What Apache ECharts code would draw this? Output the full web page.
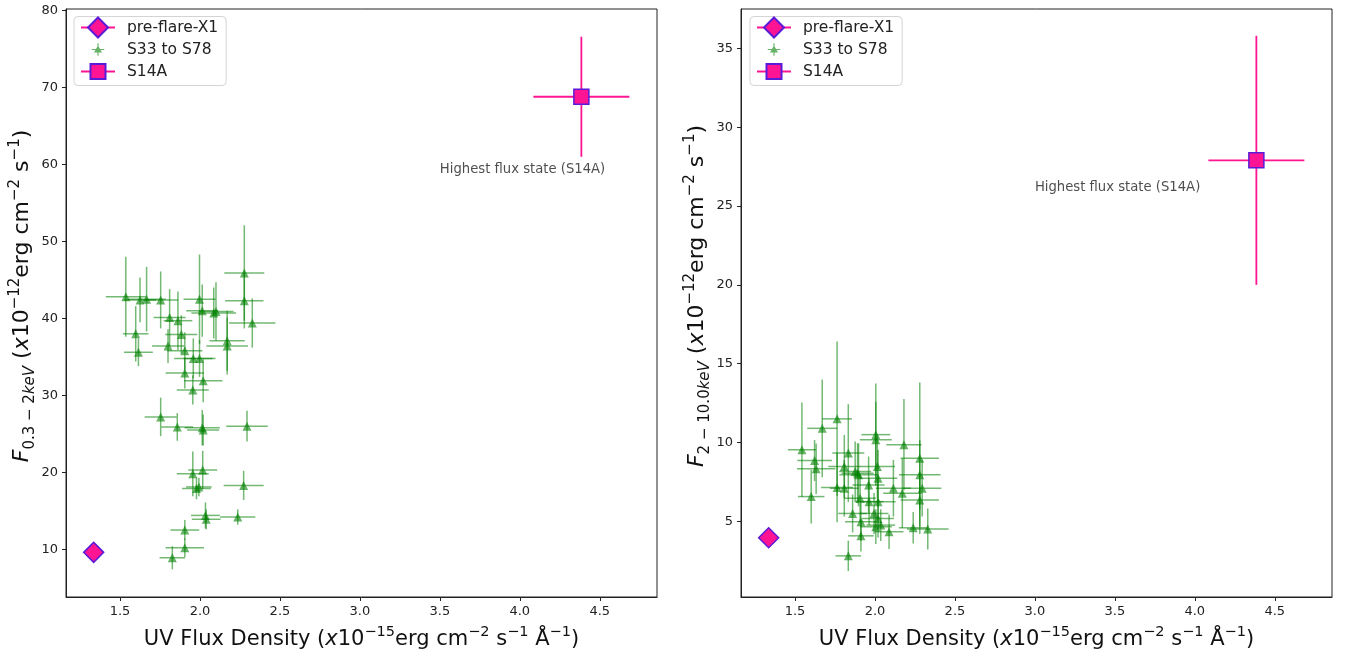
<!DOCTYPE html>
<html>
<head>
<meta charset="utf-8">
<script src="https://cdn.jsdelivr.net/npm/echarts@6/dist/echarts.min.js"></script>
<style>
html,body{margin:0;padding:0;background:#fff}
#chart{width:1345px;height:656px}
</style>
</head>
<body>
<div id="chart"></div>
<script>
// S33 to S78, left panel (0.3-2 keV)
var leftX    = [1.536,1.625,1.666,1.754,1.598,1.615,1.81,1.862,1.883,1.80,1.905,1.958,1.997,1.905,2.02,1.955,1.997,2.014,2.086,2.10,2.17,2.17,2.277,2.277,2.327,1.754,1.858,2.014,2.02,2.294,1.955,2.017,1.978,1.993,2.273,2.034,2.039,2.236,1.905,1.905,1.827];
var leftY    = [42.8,42.4,42.5,42.4,38.0,35.6,40.1,39.7,37.9,36.4,35.8,34.8,34.8,32.9,31.9,30.7,42.5,41.0,40.7,40.9,37.1,36.4,45.9,42.3,39.4,27.2,25.9,25.8,25.5,26.0,19.8,20.3,17.9,18.1,18.3,14.4,13.9,14.2,12.5,10.2,8.9];
var leftXErr = [0.125,0.10,0.12,0.11,0.08,0.09,0.10,0.09,0.10,0.10,0.11,0.12,0.10,0.12,0.12,0.10,0.10,0.10,0.14,0.11,0.11,0.13,0.125,0.12,0.145,0.10,0.10,0.11,0.10,0.13,0.10,0.09,0.09,0.08,0.125,0.09,0.09,0.11,0.09,0.12,0.08];
var leftYErr = [5.2,2.9,4.2,3.7,3.6,1.8,3.7,3.8,2.5,2.2,2.4,2.6,2.4,2.0,2.8,1.9,5.8,3.4,3.3,3.8,3.9,3.7,6.2,3.6,3.2,2.5,1.8,2.3,2.0,2.0,2.9,2.5,1.4,1.2,1.9,1.7,1.3,1.0,1.3,1.2,1.5];

// S33 to S78, right panel (2-10 keV)
var rightX    = [1.543,1.67,1.763,1.622,1.632,1.601,1.833,1.808,1.763,1.808,1.876,1.897,1.86,1.907,1.912,1.912,1.833,2.005,2.005,2.015,2.019,1.96,1.963,2.019,1.994,2.019,2.036,2.005,2.088,2.115,2.181,2.171,2.28,2.28,2.295,2.28,2.239,2.33,1.891];
var rightY    = [9.54,10.9,11.5,8.86,8.33,6.57,9.33,8.48,7.14,7.10,8.16,7.95,5.50,6.46,4.97,4.08,2.81,10.5,10.18,8.48,7.73,7.31,6.25,6.25,5.50,5.18,4.76,4.66,4.34,7.10,9.86,6.78,9.0,7.95,7.1,6.36,4.59,4.51,8.05];
var rightXErr = [0.088,0.094,0.093,0.108,0.12,0.083,0.10,0.10,0.10,0.09,0.10,0.12,0.09,0.10,0.10,0.08,0.08,0.09,0.10,0.11,0.12,0.10,0.09,0.11,0.09,0.10,0.09,0.10,0.09,0.11,0.11,0.12,0.12,0.13,0.12,0.12,0.09,0.13,0.10];
var rightYErr = [3.0,3.1,4.9,1.3,1.6,1.7,3.1,2.0,2.2,1.8,1.9,2.0,1.2,1.5,1.2,1.0,0.96,3.25,2.4,2.0,1.8,1.8,1.5,1.6,1.3,1.2,1.0,1.1,1.1,1.8,2.9,2.2,4.8,2.2,1.8,1.7,1.0,1.3,1.9];

// pre-flare-X1 and S14A: [left, right]
var preflareX = 1.335;
var preflareY = [9.6, 3.96];
var s14aX = 4.385;
var s14aXErr = 0.3;
var s14aY = [68.8, 27.9];
var s14aYErr = [7.8, 7.9];

// annotation anchor points: [left, right]
var noteX = [3.5, 3.0];
var noteY = [59.4, 26.2];
var noteText = 'Highest flux state (S14A)';

var font = 'DejaVu Sans';
var magenta = '#ff1493';
var violet = '#5a1ad8';
// marker shapes padded inside a box so legend and plot sizes match
var squareSym = 'path://M0,0 M20,20 M2.5,2.5 L17.5,2.5 L17.5,17.5 L2.5,17.5 Z';
var greenIcon = 'path://M0,0 M26,26 M6.5,12.4 L19.5,12.4 L19.5,13.6 L6.5,13.6 Z M12.4,6.5 L13.6,6.5 L13.6,19.5 L12.4,19.5 Z M13,8.8 L17.2,16.2 L8.8,16.2 Z';

function rows(xs, ys, xe, ye) {
    return xs.map(function (x, i) { return [x, ys[i], xe[i], ye[i]]; });
}

function errBars(color, width) {
    return function (params, api) {
        var x = api.value(0), y = api.value(1), xe = api.value(2), ye = api.value(3);
        var a = api.coord([x - xe, y]), b = api.coord([x + xe, y]);
        var c = api.coord([x, y - ye]), d = api.coord([x, y + ye]);
        var st = {stroke: color, lineWidth: width};
        return {type: 'group', children: [
            {type: 'line', shape: {x1: a[0], y1: a[1], x2: b[0], y2: b[1]}, style: st},
            {type: 'line', shape: {x1: c[0], y1: c[1], x2: d[0], y2: d[1]}, style: st}
        ]};
    };
}

function richSet(big, small, lh) {
    return {
        n: {fontSize: big, fontFamily: font, color: '#111', lineHeight: lh},
        i: {fontSize: big, fontFamily: font, color: '#111', lineHeight: lh, fontStyle: 'italic'},
        sup: {fontSize: small, fontFamily: font, color: '#111', lineHeight: small, verticalAlign: 'top'},
        sub: {fontSize: small, fontFamily: font, color: '#111', lineHeight: small, verticalAlign: 'bottom'},
        subi: {fontSize: small, fontFamily: font, color: '#111', lineHeight: small, verticalAlign: 'bottom', fontStyle: 'italic'}
    };
}

var xName = '{n|UV Flux Density (}{i|x}{n|10}{sup|−15}{n|erg cm}{sup|−2}{n| s}{sup|−1}{n| Å}{sup|−1}{n|)}';
var yNameL = '{i|F}{sub|0.3 − 2}{subi|keV}{n| (}{i|x}{n|10}{sup|−12}{n|erg cm}{sup|−2}{n| s}{sup|−1}{n|)}';
var yNameR = '{i|F}{sub|2 − 10.0}{subi|keV}{n| (}{i|x}{n|10}{sup|−12}{n|erg cm}{sup|−2}{n| s}{sup|−1}{n|)}';

var axisCommon = {
    type: 'value',
    axisLine: {show: true, onZero: false, lineStyle: {color: '#222', width: 1}},
    axisTick: {show: true, length: 4, lineStyle: {color: '#222'}},
    splitLine: {show: false},
    nameLocation: 'middle'
};

function xAxis(gi) {
    return Object.assign({}, axisCommon, {
        gridIndex: gi, min: 1.162, max: 4.858, splitNumber: 7,
        name: xName, nameGap: 28,
        nameTextStyle: {rich: richSet(21, 14.5, 30)},
        axisLabel: {showMinLabel: false, showMaxLabel: false, color: '#222', fontSize: 13, fontFamily: font, margin: 8,
            formatter: function (v) { return v.toFixed(1); }}
    });
}
function yAxis(gi, min, max, split, name) {
    return Object.assign({}, axisCommon, {
        gridIndex: gi, min: min, max: max, splitNumber: split,
        name: name, nameGap: 27,
        nameTextStyle: {rich: richSet(22, 15, 30), padding: [0, 0, 0, 14]},
        axisLabel: {showMinLabel: false, showMaxLabel: false, color: '#222', fontSize: 13, fontFamily: font, margin: 8,
            formatter: function (v) { return String(Math.round(v)); }}
    });
}

function legend(left) {
    return {
        left: left, top: 16.5, orient: 'vertical',
        data: ['pre-flare-X1', {name: 'S33 to S78', icon: greenIcon}, 'S14A'],
        itemWidth: 34, itemHeight: 25, itemGap: -1.5,
        padding: [0, 8, 3, 6],
        backgroundColor: '#fff', borderColor: '#d4d4d4', borderWidth: 1, borderRadius: 4,
        textStyle: {fontSize: 15.5, fontFamily: font, color: '#222', padding: [0, 0, 0, 7]},
        selectedMode: false
    };
}

function panel(gi, gx, gy, gxe, gye, pY, sY, sYE, nx, ny) {
    return [
        {type: 'custom', name: 'err-green', xAxisIndex: gi, yAxisIndex: gi, z: 1,
            renderItem: errBars('rgba(0,128,0,0.55)', 1.5),
            encode: {x: 0, y: 1}, data: rows(gx, gy, gxe, gye)},
        {type: 'custom', name: 'err-s14a', xAxisIndex: gi, yAxisIndex: gi, z: 1,
            renderItem: errBars(magenta, 1.8),
            encode: {x: 0, y: 1}, data: [[s14aX, sY, s14aXErr, sYE]]},
        {type: 'scatter', name: 'S33 to S78', xAxisIndex: gi, yAxisIndex: gi, z: 2,
            symbol: 'triangle', symbolSize: 9,
            itemStyle: {color: 'rgba(0,128,0,0.75)'},
            data: gx.map(function (x, i) { return [x, gy[i]]; })},
        {type: 'line', name: 'pre-flare-X1', xAxisIndex: gi, yAxisIndex: gi, z: 3,
            symbol: 'diamond', symbolSize: 20, showSymbol: true,
            lineStyle: {color: magenta, width: 1.5},
            itemStyle: {color: magenta, borderColor: violet, borderWidth: 1.5},
            data: [[preflareX, pY]]},
        {type: 'line', name: 'S14A', xAxisIndex: gi, yAxisIndex: gi, z: 3,
            symbol: squareSym, symbolSize: 20, showSymbol: true,
            lineStyle: {color: magenta, width: 1.5},
            itemStyle: {color: magenta, borderColor: violet, borderWidth: 1.5},
            data: [[s14aX, sY]]},
        {type: 'scatter', name: 'note', xAxisIndex: gi, yAxisIndex: gi, z: 4,
            symbolSize: 0, silent: true,
            label: {show: true, position: 'right', distance: 0, formatter: noteText,
                fontSize: 13.2, fontFamily: font, color: '#222'},
            data: [[nx, ny]]}
    ];
}

var chart = echarts.init(document.getElementById('chart'));
chart.setOption({
    animation: false,
    backgroundColor: '#fff',
    grid: [
        {left: 66, top: 9, width: 591, height: 588, outerBoundsMode: 'none', containLabel: false,
            show: true, borderColor: '#222', borderWidth: 1, backgroundColor: 'transparent'},
        {left: 741, top: 9, width: 591, height: 588, outerBoundsMode: 'none', containLabel: false,
            show: true, borderColor: '#222', borderWidth: 1, backgroundColor: 'transparent'}
    ],
    xAxis: [xAxis(0), xAxis(1)],
    yAxis: [yAxis(0, 3.8, 80.2, 8, yNameL), yAxis(1, 0.2, 37.5, 7, yNameR)],
    legend: [legend(74), legend(750)],
    series: panel(0, leftX, leftY, leftXErr, leftYErr, preflareY[0], s14aY[0], s14aYErr[0], noteX[0], noteY[0])
        .concat(panel(1, rightX, rightY, rightXErr, rightYErr, preflareY[1], s14aY[1], s14aYErr[1], noteX[1], noteY[1]))
});
</script>
</body>
</html>
